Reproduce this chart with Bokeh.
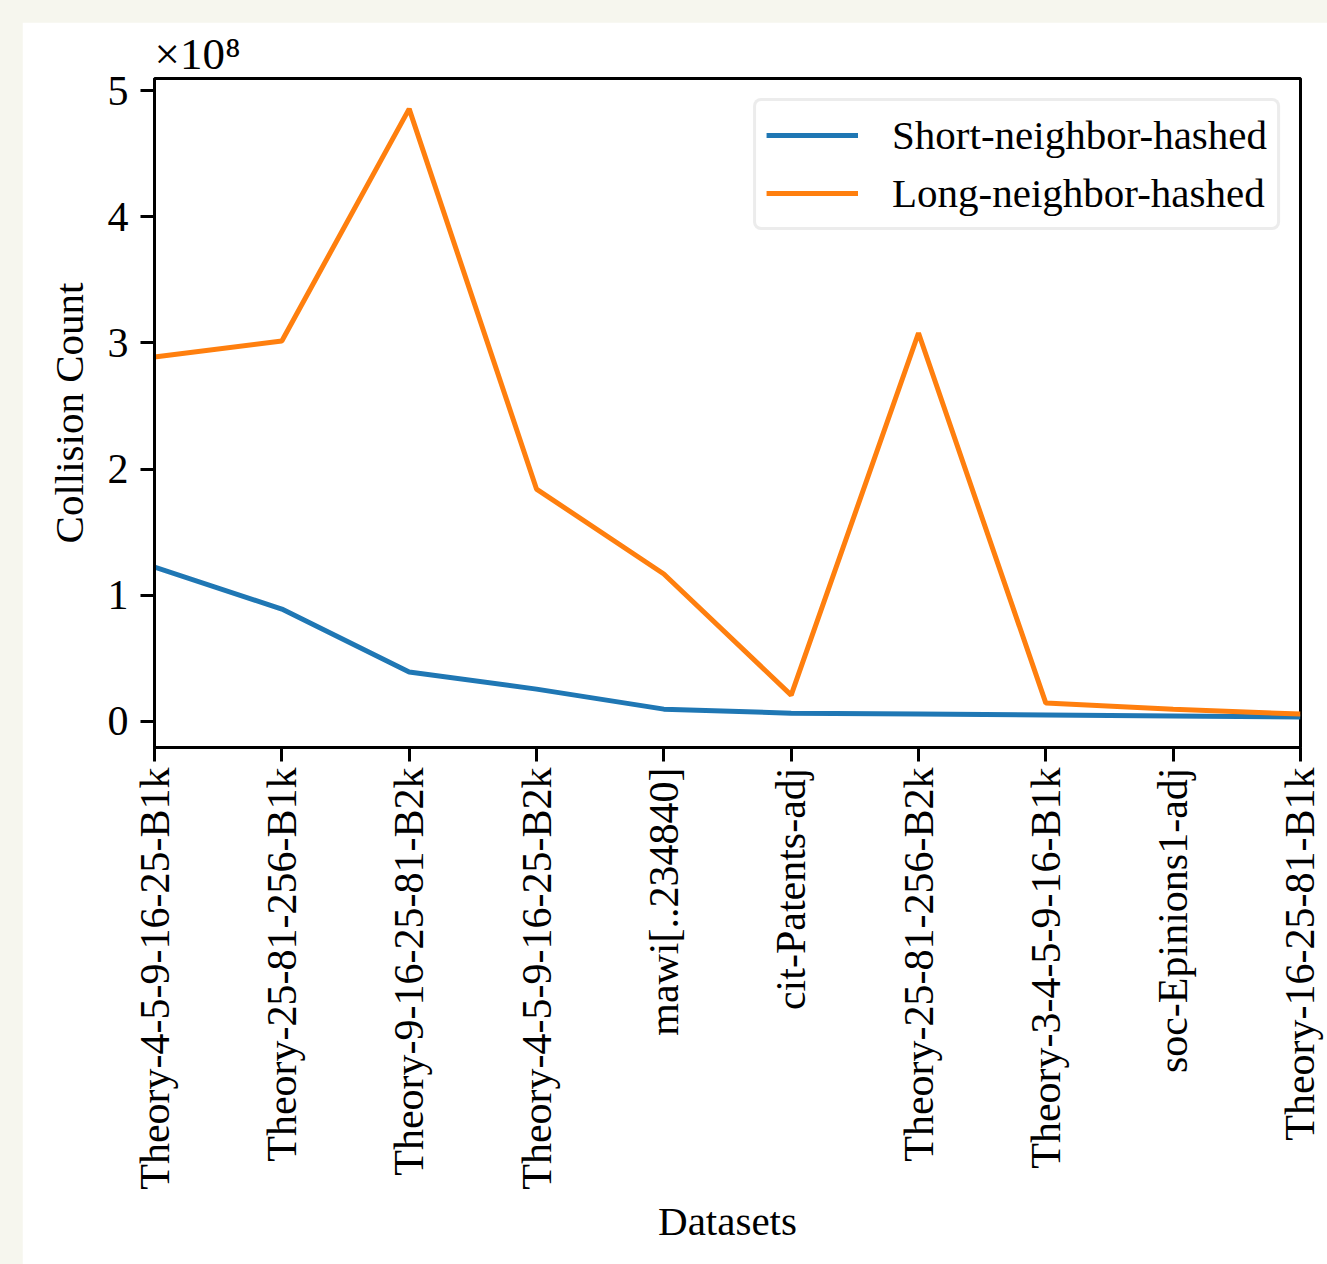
from bokeh.plotting import figure
from bokeh.models import (Range1d, FixedTicker, Legend, LegendItem, ColumnDataSource)
from bokeh.layouts import column
from bokeh.embed import file_html
from bokeh.resources import INLINE

datasets = ["Theory-4-5-9-16-25-B1k", "Theory-25-81-256-B1k", "Theory-9-16-25-81-B2k",
            "Theory-4-5-9-16-25-B2k", "mawi[..234840]", "cit-Patents-adj",
            "Theory-25-81-256-B2k", "Theory-3-4-5-9-16-B1k", "soc-Epinions1-adj",
            "Theory-16-25-81-B1k"]
short_hashed = [1.222e8, 0.889e8, 0.389e8, 0.254e8, 0.095e8, 0.063e8, 0.056e8, 0.048e8, 0.040e8, 0.032e8]
long_hashed = [2.889e8, 3.016e8, 4.857e8, 1.841e8, 1.167e8, 0.206e8, 3.079e8, 0.143e8, 0.095e8, 0.056e8]
y_ticks = [0, 1e8, 2e8, 3e8, 4e8, 5e8]
y_tick_labels = ["0", "1", "2", "3", "4", "5"]

FONT = "Liberation Serif"
FS = "41px"
TICK_FS = "42px"

xs = list(range(len(datasets)))
ymin = min(min(short_hashed), min(long_hashed))
ymax = max(max(short_hashed), max(long_hashed))
pad = (ymax - ymin) * 0.05

p = figure(width=1305, height=1242, output_backend="svg", toolbar_location=None,
           x_range=Range1d(0, len(datasets) - 1), y_range=Range1d(ymin - pad, ymax + pad),
           min_border_left=132, min_border_right=27, min_border_top=56, min_border_bottom=517,
           title="×10⁸")
p.title.text_font = FONT
p.title.text_font_size = "45px"
p.title.text_font_style = "normal"
p.title.text_color = "black"
p.title.text_line_height = 1.0
p.title.align = "left"
p.title.offset = 0
p.title.standoff = 0
p.background_fill_color = "white"
p.border_fill_color = "white"
p.outline_line_color = "black"
p.outline_line_width = 3
p.grid.visible = False

src = ColumnDataSource(dict(x=xs, s=short_hashed, l=long_hashed))
r1 = p.line("x", "s", source=src, line_color="#1f77b4", line_width=5)
r2 = p.line("x", "l", source=src, line_color="#ff7f0e", line_width=5)

xa = p.xaxis[0]
xa.ticker = FixedTicker(ticks=xs)
xa.major_label_overrides = {i: d for i, d in enumerate(datasets)}
xa.major_label_orientation = 1.5707963
xa.axis_label = "Datasets"
ya = p.yaxis[0]
ya.ticker = FixedTicker(ticks=y_ticks)
ya.major_label_overrides = {t: l for t, l in zip(y_ticks, y_tick_labels)}
ya.axis_label = "Collision Count"
for ax in (xa, ya):
    ax.axis_line_width = 3
    ax.major_tick_line_width = 3
    ax.major_tick_out = 14
    ax.major_tick_in = 0
    ax.minor_tick_out = 0
    ax.minor_tick_in = 0
    ax.major_label_text_font = FONT
    ax.major_label_text_font_size = TICK_FS
    ax.major_label_text_color = "black"
    ax.axis_label_text_font = FONT
    ax.axis_label_text_font_size = FS
    ax.axis_label_text_font_style = "normal"
    ax.axis_label_text_color = "black"
xa.major_label_standoff = 6
ya.major_label_standoff = 12
xa.axis_label_standoff = 5
ya.axis_label_standoff = 13

legend = Legend(items=[LegendItem(label="Short-neighbor-hashed", renderers=[r1]),
                       LegendItem(label="Long-neighbor-hashed", renderers=[r2])],
                location="top_right")
legend.label_text_font = FONT
legend.label_text_font_size = FS
legend.label_text_color = "black"
legend.glyph_width = 92
legend.glyph_height = 40
legend.label_standoff = 34
legend.spacing = 10
legend.padding = 10
legend.margin = 20
legend.border_line_color = "#d9d9d9"
legend.border_line_width = 3
legend.background_fill_alpha = 1
if "border_radius" in legend.properties():
    legend.border_radius = 8
p.add_layout(legend)

layout = column(p, styles={"background-color": "#f6f6ee", "padding": "22px 0 0 22px"})
open("out.html", "w").write(file_html(layout, INLINE))
